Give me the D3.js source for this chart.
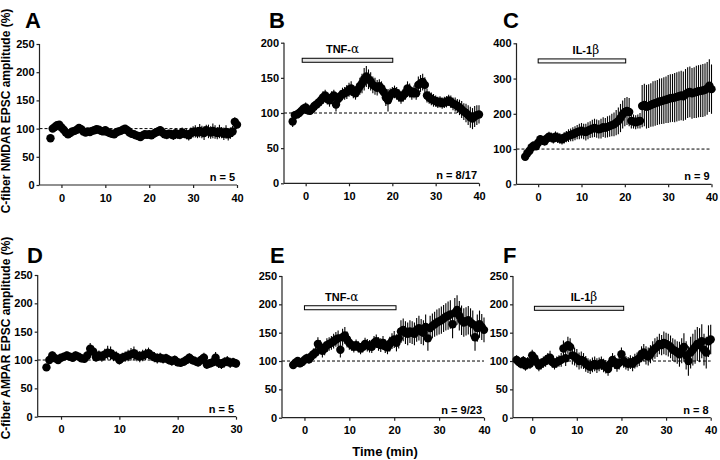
<!DOCTYPE html>
<html><head><meta charset="utf-8">
<script src="https://cdn.jsdelivr.net/npm/d3@7"></script>
<style>
body{margin:0;background:#fff;}
svg{display:block;font-family:Arial,"Liberation Sans",sans-serif;}
</style></head>
<body><svg id="c" width="720" height="460"></svg>
<script>
// time grid (min), 0.5 min sampling
const timeGrid = [-3.5,-3,-2.5,-2,-1.5,-1,-0.5,0,0.5,1,1.5,2,2.5,3,3.5,4,4.5,5,5.5,6,6.5,7,7.5,8,8.5,9,9.5,10,10.5,11,11.5,12,12.5,13,13.5,14,14.5,15,15.5,16,16.5,17,17.5,18,18.5,19,19.5,20,20.5,21,21.5,22,22.5,23,23.5,24,24.5,25,25.5,26,26.5,27,27.5,28,28.5,29,29.5,30,30.5,31,31.5,32,32.5,33,33.5,34,34.5,35,35.5,36,36.5,37,37.5,38,38.5,39,39.5,40];

const valA = [83,100,103,106,107,102,98,93,90,92,
95,96,98,101,99,95,93,95,94,96,
97,99,98,96,95,97,94,92,91,90,
93,95,96,98,100,97,93,91,90,88,
87,85,88,90,89,90,88,91,93,95,
97,93,90,89,91,90,88,92,90,89,
93,91,90,88,92,94,95,93,96,94,
92,97,95,93,96,94,92,95,93,91,
94,90,92,95,112,107];
const errA = [6,5,5,6,5,5,5,4,4,5,
5,5,5,5,5,4,4,5,4,5,
5,6,5,5,5,5,5,5,5,4,
5,5,5,5,6,5,5,5,5,6,
6,6,7,6,6,6,6,7,7,8,
7,6,7,8,7,8,8,7,8,8,
9,8,9,9,10,10,11,10,12,11,
12,10,12,11,13,12,11,12,10,11,
12,11,10,10,8,6];

const valB = [88,97,98,100,103,106,108,104,103,106,
110,112,115,118,122,125,120,118,122,125,
112,120,124,127,128,130,133,135,130,128,
133,138,142,148,152,148,145,140,138,136,
138,135,130,122,118,125,128,130,128,125,
122,125,128,135,132,128,130,128,140,142,
144,140,125,122,120,118,117,115,116,114,
115,116,118,116,113,112,110,108,105,102,
100,97,94,92,95,97,98];
const errB = [8,6,5,5,6,6,7,6,6,7,
7,8,8,8,9,8,8,9,9,8,
10,8,8,9,9,10,10,10,9,9,
10,12,14,16,15,14,13,12,12,11,
10,10,10,12,16,10,9,9,9,9,
9,9,9,10,10,9,9,9,12,12,
12,11,10,9,9,9,8,8,8,8,
8,8,8,9,9,10,10,11,12,12,
13,14,15,15,15,14,13];

const valC = [78,88,95,105,110,108,118,128,125,122,
130,135,133,130,135,132,130,128,132,135,
138,140,142,145,148,150,152,150,148,152,
155,158,160,158,156,158,162,160,163,165,
168,170,175,180,188,198,205,208,205,180,
178,176,178,180,222,225,220,222,225,228,
230,232,235,236,238,240,242,244,245,246,
248,250,252,250,255,260,262,258,260,262,
264,265,266,268,272,280,270];
const errC = [8,8,8,10,10,10,12,12,12,12,
14,14,14,14,15,15,15,15,16,16,
18,18,20,20,20,22,22,22,24,24,
24,25,26,26,26,28,28,28,30,30,
32,34,36,38,40,40,40,40,40,22,
20,20,20,22,60,60,62,62,62,64,
64,64,65,65,66,66,68,68,68,70,
70,70,70,70,72,72,72,72,72,74,
74,74,75,75,75,75,70];

const valD = [87,100,108,103,100,104,106,108,106,104,
108,106,103,102,108,120,115,105,108,106,
110,113,112,108,106,100,104,106,108,110,
112,108,106,108,110,112,108,105,103,104,
102,103,100,98,100,96,95,97,100,104,
100,98,96,100,104,92,94,96,104,95,
93,96,98,95,96,94];
const errD = [6,6,7,7,6,6,6,7,7,6,
7,7,7,7,8,10,10,8,9,9,
10,12,12,10,9,8,9,9,10,11,
12,10,10,10,10,10,9,9,9,9,
8,8,8,8,8,7,7,7,8,8,
8,8,8,9,9,8,8,8,10,9,
9,9,9,9,8,8];

const valE = [93,97,100,96,98,102,105,103,108,112,
115,130,125,118,122,128,130,132,135,138,
140,120,142,145,138,132,128,125,128,125,
122,125,130,128,126,125,132,135,130,128,
132,126,124,130,135,138,132,140,152,155,
150,148,152,150,148,155,158,152,150,160,
140,158,162,165,168,170,172,175,178,180,
182,165,185,190,180,172,168,170,172,168,
165,142,158,165,160,155];
const errE = [6,6,7,7,7,8,8,8,9,10,
10,12,12,12,12,12,12,12,13,13,
14,14,15,15,14,12,10,10,10,10,
10,10,11,11,11,11,12,12,12,12,
12,12,12,13,14,15,15,18,20,20,
20,20,20,20,20,21,22,22,22,22,
22,22,22,22,23,23,24,24,24,25,
25,25,26,26,26,26,25,25,25,25,
24,24,24,24,23,22];

const valF = [102,98,95,100,92,98,95,110,105,98,
92,95,98,100,104,106,98,95,98,100,
102,122,105,128,125,110,108,105,100,102,
100,95,92,90,93,95,92,94,96,92,
90,86,95,102,98,93,97,112,100,97,
95,98,95,100,102,105,112,115,110,108,
112,118,122,125,130,128,132,130,128,125,
120,118,115,112,118,125,110,100,115,120,
125,130,128,135,120,115,135,138];
const errF = [8,8,8,9,9,9,9,10,10,10,
10,10,10,10,10,12,10,10,10,10,
12,14,14,15,15,16,16,16,15,15,
14,14,13,13,13,13,13,12,12,12,
12,12,12,12,12,12,12,12,12,12,
12,12,13,13,13,14,14,15,16,16,
16,17,18,18,18,18,20,20,20,20,
20,20,20,22,22,24,25,26,28,28,
30,30,30,30,28,28,28,26];

const panelLetters = ["A","B","C","D","E","F"];
const nLabels = ["n = 5","n = 8/17","n = 9","n = 5","n = 9/23","n = 8"];
const startTimes = [-2.5,-3,-3,-2.5,-2.5,-3.5];
const xDomains = [[-5,40],[-5,40],[-5,40],[-4,30],[-5,40],[-4.3,40]];
const xTicks = [[0,10,20,30,40],[0,10,20,30,40],[0,10,20,30,40],[0,10,20,30],[0,10,20,30,40],[0,10,20,30,40]];
const yMax = [250,200,400,250,250,250];
const yTickStep = [50,50,100,50,50,50];
const drugNames = [null,"TNF-","IL-1",null,"TNF-","IL-1"];
const drugGreek = [null,"α","β",null,"α","β"];
const drugStart = [null,-0.8,0,null,0,0.5];
const drugEnd = [null,20.1,20.2,null,20.4,20.5];
const drugLevel = [null,175,350,null,194,193];
const drugLabelT = [null,8.5,11,null,8.3,11.6];
const yTitles = ["C-fiber NMDAR EPSC amplitude (%)","C-fiber AMPAR EPSC amplitude (%)"];
const xTitle = "Time (min)";

const values = [valA,valB,valC,valD,valE,valF];
const errors = [errA,errB,errC,errD,errE,errF];

// layout
const boxes = [
  {x0:39.5,x1:237,y0:185,y1:44, lx:25,ly:28},
  {x0:284,x1:479,y0:183.3,y1:42.7, lx:269,ly:28},
  {x0:516.5,x1:711.5,y0:184.3,y1:43.3, lx:503,ly:28},
  {x0:37.7,x1:236,y0:416.7,y1:275, lx:27,ly:263},
  {x0:282,x1:484,y0:417.7,y1:276, lx:270,ly:263},
  {x0:513,x1:710.7,y0:417.7,y1:276, lx:503,ly:263}
];
const barFill = [null,"#e6e6e6","#fafafa",null,"#fafafa","#e6e6e6"];

const svg = d3.select("#c");
const fontTick = "bold 11px Arial, 'Liberation Sans', sans-serif";

boxes.forEach((b,i)=>{
  const g = svg.append("g");
  const x = d3.scaleLinear().domain(xDomains[i]).range([b.x0,b.x1]);
  const y = d3.scaleLinear().domain([0,yMax[i]]).range([b.y0,b.y1]);
  const t0 = timeGrid.indexOf(startTimes[i]);
  const data = values[i].map((v,k)=>({t:timeGrid[t0+k], v, e:errors[i][k]}));

  // dashed baseline
  g.append("line").attr("x1",x(xDomains[i][0])).attr("x2",x(Math.min(40,xDomains[i][1])))
    .attr("y1",y(100)).attr("y2",y(100))
    .attr("stroke","#000").attr("stroke-width",1).attr("stroke-dasharray","3,2");

  // axes
  const yAxis = d3.axisLeft(y).tickValues(d3.range(0,yMax[i]+1,yTickStep[i])).tickSize(3).tickPadding(2);
  const xAxis = d3.axisBottom(x).tickValues(xTicks[i]).tickSize(3).tickPadding(6);
  const ya = g.append("g").attr("transform",`translate(${b.x0},0)`).call(yAxis);
  const xa = g.append("g").attr("transform",`translate(0,${b.y0})`).call(xAxis);
  [ya,xa].forEach(a=>{
    a.select(".domain").attr("stroke","#222").attr("stroke-width",1.2);
    a.selectAll(".tick line").attr("stroke","#222").attr("stroke-width",1.2);
    a.selectAll("text").style("font",fontTick).attr("fill","#000");
  });
  xa.select(".domain").attr("d",`M${b.x0},0H${b.x1}`);
  ya.select(".domain").attr("d",`M0,${b.y0}V${b.y1}`);

  // error bars
  g.selectAll(".err").data(data).enter().append("line")
    .attr("x1",d=>x(d.t)).attr("x2",d=>x(d.t))
    .attr("y1",d=>y(d.v-d.e)).attr("y2",d=>y(d.v+d.e))
    .attr("stroke","#000").attr("stroke-width",1.1);
  // points
  g.selectAll(".pt").data(data).enter().append("circle")
    .attr("cx",d=>x(d.t)).attr("cy",d=>y(d.v)).attr("r",4.2).attr("fill","#000");

  // drug bar
  if (drugNames[i]) {
    const yb = y(drugLevel[i]);
    g.append("rect").attr("x",x(drugStart[i])).attr("y",yb-2)
      .attr("width",x(drugEnd[i])-x(drugStart[i])).attr("height",4)
      .attr("fill",barFill[i]).attr("stroke","#000").attr("stroke-width",1);
    const tx = g.append("text").attr("x",x(drugLabelT[i])).attr("y",yb-7)
      .attr("text-anchor","middle").attr("fill","#000").style("font",fontTick);
    tx.append("tspan").attr("fill","#000").text(drugNames[i]);
    tx.append("tspan").attr("fill","#000").text(drugGreek[i]).style("font","12px 'DejaVu Serif', serif");
  }

  // n label
  g.append("text").attr("x",b.x1-2).attr("y",b.y0-4).attr("text-anchor","end")
    .style("font",fontTick).text(nLabels[i]);

  // panel letter
  svg.append("text").attr("x",b.lx).attr("y",b.ly).style("font","bold 22px Arial, 'Liberation Sans', sans-serif")
    .text(panelLetters[i]);
});

// axis titles
svg.append("text").attr("transform","translate(10,111) rotate(-90)").attr("text-anchor","middle")
  .style("font","bold 12px Arial, 'Liberation Sans', sans-serif").text(yTitles[0]);
svg.append("text").attr("transform","translate(10,338) rotate(-90)").attr("text-anchor","middle")
  .style("font","bold 12px Arial, 'Liberation Sans', sans-serif").text(yTitles[1]);
svg.append("text").attr("x",385).attr("y",456).attr("text-anchor","middle")
  .style("font","bold 13px Arial, 'Liberation Sans', sans-serif").text(xTitle);
</script></body></html>
